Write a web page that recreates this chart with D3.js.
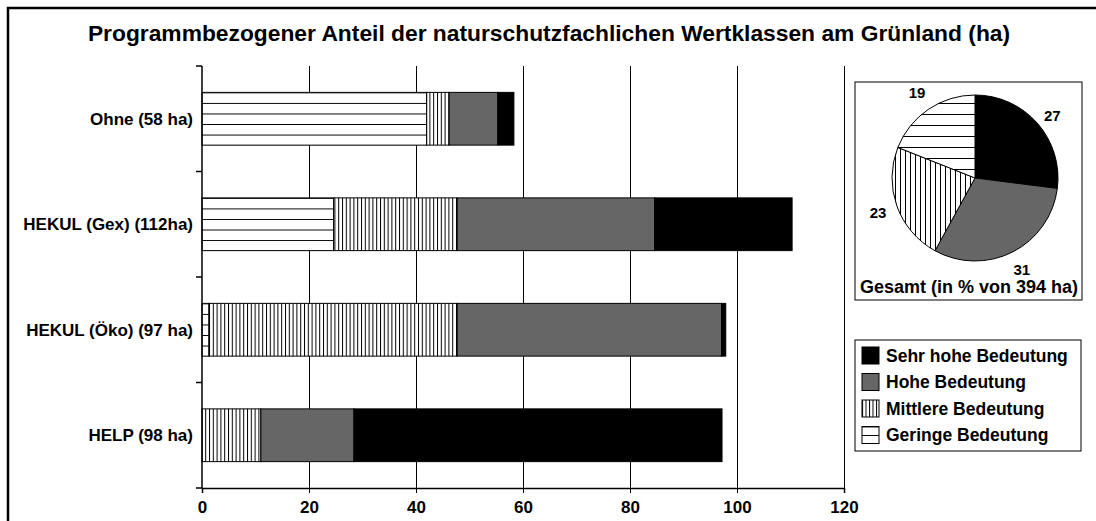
<!DOCTYPE html>
<html><head><meta charset="utf-8">
<script src="https://cdn.jsdelivr.net/npm/d3@7"></script>
<style>
html,body{margin:0;padding:0;background:#fff;}
svg text{font-family:Arial,"Liberation Sans",sans-serif;font-weight:bold;fill:#000;}
</style></head>
<body><svg id="c" width="1096" height="521"></svg>
<script>
const title = "Programmbezogener Anteil der naturschutzfachlichen Wertklassen am Grünland (ha)";
const categories = ["Ohne (58 ha)", "HEKUL (Gex) (112ha)", "HEKUL (Öko) (97 ha)", "HELP (98 ha)"];
const seriesNames = ["Geringe Bedeutung", "Mittlere Bedeutung", "Hohe Bedeutung", "Sehr hohe Bedeutung"];
const geringe  = [42.0, 24.6, 1.3, 0];
const mittlere = [4.2, 23.1, 46.4, 11.0];
const hohe     = [9.1, 36.9, 49.4, 17.4];
const sehrHohe = [3.0, 25.7, 0.8, 68.8];
const xTicks = [0, 20, 40, 60, 80, 100, 120];
const pieNames = ["Sehr hohe Bedeutung", "Hohe Bedeutung", "Mittlere Bedeutung", "Geringe Bedeutung"];
const pieValues = [27, 31, 23, 19];
const pieCaption = "Gesamt (in % von 394 ha)";
const legendOrder = ["Sehr hohe Bedeutung", "Hohe Bedeutung", "Mittlere Bedeutung", "Geringe Bedeutung"];

const svg = d3.select("#c");
const defs = svg.append("defs");

function vertPattern(id, w) {
  const p = defs.append("pattern").attr("id", id).attr("patternUnits", "userSpaceOnUse")
    .attr("width", w).attr("height", 10);
  p.append("rect").attr("width", w).attr("height", 10).attr("fill", "#fff");
  p.append("line").attr("x1", 0.5).attr("x2", 0.5).attr("y1", 0).attr("y2", 10)
    .attr("stroke", "#000").attr("stroke-width", 1);
}
vertPattern("vBar", 3.8);
vertPattern("vPie", 5);
vertPattern("vLeg", 3.5);
function horizBBox(id, frac) {
  const p = defs.append("pattern").attr("id", id).attr("patternUnits", "objectBoundingBox")
    .attr("width", 1).attr("height", frac);
  p.append("rect").attr("width", 2000).attr("height", 200).attr("fill", "#fff");
  p.append("line").attr("x1", 0).attr("x2", 2000).attr("y1", 0.5).attr("y2", 0.5)
    .attr("stroke", "#000").attr("stroke-width", 1);
}
horizBBox("hBar", 0.2);
horizBBox("hLeg", 0.5);
(function(){
  const p = defs.append("pattern").attr("id", "hPie").attr("patternUnits", "userSpaceOnUse")
    .attr("width", 10).attr("height", 11).attr("y", 2);
  p.append("rect").attr("width", 10).attr("height", 11).attr("fill", "#fff");
  p.append("line").attr("x1", 0).attr("x2", 10).attr("y1", 0.5).attr("y2", 0.5)
    .attr("stroke", "#000").attr("stroke-width", 1);
})();

const barFill = {"Geringe Bedeutung": "url(#hBar)", "Mittlere Bedeutung": "url(#vBar)", "Hohe Bedeutung": "#666666", "Sehr hohe Bedeutung": "#000"};
const pieFill = {"Geringe Bedeutung": "url(#hPie)", "Mittlere Bedeutung": "url(#vPie)", "Hohe Bedeutung": "#666666", "Sehr hohe Bedeutung": "#000"};
const legFill = {"Geringe Bedeutung": "url(#hLeg)", "Mittlere Bedeutung": "url(#vLeg)", "Hohe Bedeutung": "#666666", "Sehr hohe Bedeutung": "#000"};

// frame
svg.append("line").attr("x1", 8).attr("x2", 8).attr("y1", 7).attr("y2", 521).attr("stroke", "#000").attr("stroke-width", 2.5);
svg.append("line").attr("x1", 7).attr("x2", 1096).attr("y1", 8).attr("y2", 8).attr("stroke", "#000").attr("stroke-width", 2.5);

// title
svg.append("text").attr("x", 549).attr("y", 41).attr("text-anchor", "middle")
  .style("font-size", "22.8px").text(title);

// scales
const x = d3.scaleLinear().domain([0, 120]).range([202, 844]);
const y = d3.scaleBand().domain(categories).range([66, 488]).paddingInner(0.5).paddingOuter(0.25);
const yb = d3.scaleBand().domain(categories).range([66, 488]);

// grid
svg.append("g").selectAll("line").data(xTicks.filter(d => d > 0)).join("line")
  .attr("x1", d => x(d)).attr("x2", d => x(d)).attr("y1", 66).attr("y2", 488)
  .attr("stroke", "#000").attr("stroke-width", 1).attr("shape-rendering", "crispEdges");

// stacked bars
const rows = categories.map((c, i) => ({cat: c, "Geringe Bedeutung": geringe[i], "Mittlere Bedeutung": mittlere[i], "Hohe Bedeutung": hohe[i], "Sehr hohe Bedeutung": sehrHohe[i]}));
const stack = d3.stack().keys(seriesNames)(rows);
svg.append("g").selectAll("g").data(stack).join("g")
  .attr("fill", d => barFill[d.key])
  .selectAll("rect").data(d => d.filter(s => s[1] - s[0] > 0)).join("rect")
  .attr("x", d => x(d[0])).attr("width", d => x(d[1]) - x(d[0]))
  .attr("y", d => y(d.data.cat)).attr("height", y.bandwidth())
  .attr("stroke", "#000").attr("stroke-width", 1);

// axes
const xAxis = svg.append("g").attr("transform", "translate(0,488)")
  .call(d3.axisBottom(x).tickValues(xTicks).tickSize(5).tickPadding(8).tickFormat(d3.format("d")));
xAxis.select(".domain").attr("stroke", "#000").attr("stroke-width", 1.5);
xAxis.selectAll("text").style("font-size", "17px").style("font-family", "Arial, 'Liberation Sans', sans-serif").style("font-weight", "bold");

const yAxisG = svg.append("g").attr("transform", "translate(202,0)");
yAxisG.append("line").attr("x1", 0).attr("x2", 0).attr("y1", 66).attr("y2", 488).attr("stroke", "#000").attr("stroke-width", 1.5);
const bounds = categories.map(c => yb(c)).concat([yb(categories[categories.length - 1]) + yb.bandwidth()]);
yAxisG.selectAll("line.t").data(bounds).join("line").attr("class", "t")
  .attr("x1", -6).attr("x2", 0).attr("y1", d => d).attr("y2", d => d).attr("stroke", "#000").attr("stroke-width", 1.5);
yAxisG.selectAll("text").data(categories).join("text")
  .attr("x", -9).attr("y", d => yb(d) + yb.bandwidth() / 2).attr("dy", "0.35em")
  .attr("text-anchor", "end").style("font-size", "17px").text(d => d);

// pie box
svg.append("rect").attr("x", 855).attr("y", 82).attr("width", 227).attr("height", 218)
  .attr("fill", "#fff").attr("stroke", "#000").attr("stroke-width", 1);
const cx = 975, cy = 178, r = 83;
const pie = d3.pie().sort(null).value(d => d.v)(pieNames.map((n, i) => ({n, v: pieValues[i]})));
const arc = d3.arc().innerRadius(0).outerRadius(r);
const pg = svg.append("g").attr("transform", `translate(${cx},${cy})`);
pg.selectAll("path").data(pie).join("path").attr("d", arc)
  .attr("fill", d => pieFill[d.data.n]).attr("stroke", "#000").attr("stroke-width", 1);
const lblArc = d3.arc().innerRadius(r + 20).outerRadius(r + 20);
pg.selectAll("text").data(pie).join("text")
  .attr("transform", d => { const c = lblArc.centroid(d); return `translate(${c[0]},${c[1] + (c[1] < 0 && c[0] > 0 ? 6 : 0)})`; })
  .attr("text-anchor", "middle").attr("dy", "0.35em").style("font-size", "15px")
  .text(d => d.data.v);
svg.append("text").attr("x", 969).attr("y", 293).attr("text-anchor", "middle")
  .style("font-size", "18px").text(pieCaption);

// legend
svg.append("rect").attr("x", 855).attr("y", 340).attr("width", 226).attr("height", 111)
  .attr("fill", "#fff").attr("stroke", "#000").attr("stroke-width", 1);
const lg = svg.append("g").selectAll("g").data(legendOrder).join("g")
  .attr("transform", (d, i) => `translate(862,${347 + i * 26.5})`);
lg.append("rect").attr("width", 17).attr("height", 17).attr("fill", d => legFill[d]).attr("stroke", "#000").attr("stroke-width", 1);
lg.append("text").attr("x", 24).attr("y", 8.5).attr("dy", "0.35em").style("font-size", "17.5px").text(d => d);
</script></body></html>
